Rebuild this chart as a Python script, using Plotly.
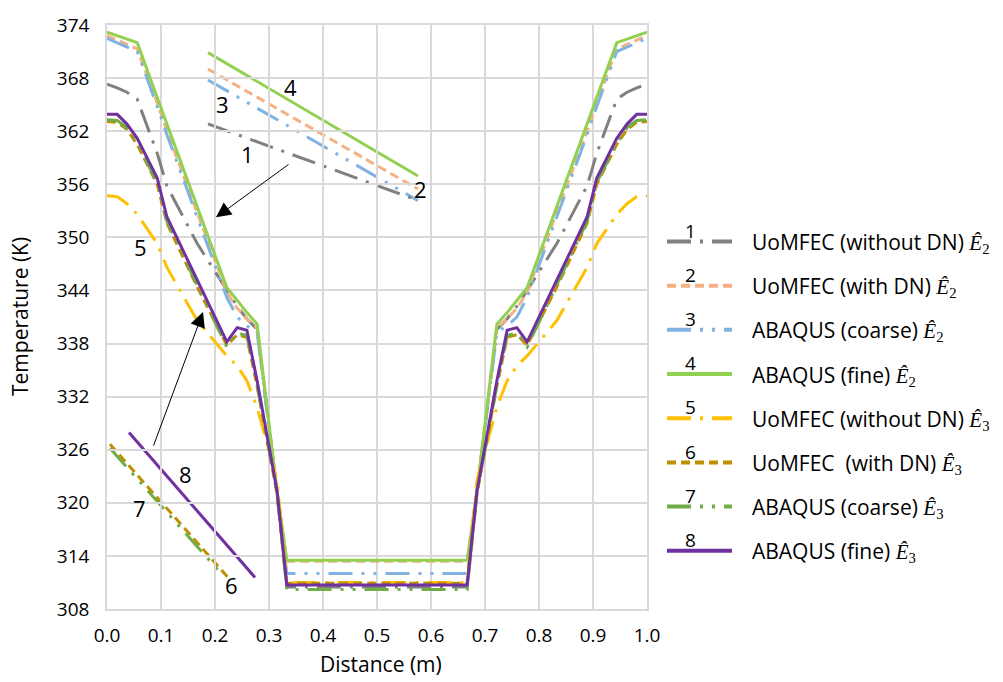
import plotly.graph_objects as go

# ---------------- data ----------------
distance = [0, 0.019, 0.037, 0.056, 0.093, 0.111, 0.167, 0.222, 0.241, 0.259, 0.278, 0.315, 0.333,
            0.5, 0.667, 0.685, 0.722, 0.741, 0.759, 0.778, 0.833, 0.889, 0.907, 0.944, 0.963, 0.981, 1.0]

uomfec_wo_dn_e2 = [367.3, 366.9, 366.4, 365.6, 359.5, 355.8, 349.3, 344.0, 342.2, 340.8, 339.6, 321.2, 310.5,
                   310.5, 310.5, 321.2, 339.6, 340.8, 342.2, 344.0, 349.3, 355.8, 359.5, 365.6, 366.4, 366.9, 367.3]
uomfec_w_dn_e2 = [372.8, 372.3, 371.8, 371.3, 365.2, 362.0, 352.8, 343.8, 342.0, 340.8, 339.8, 321.3, 313.4,
                  313.4, 313.4, 321.3, 339.8, 340.8, 342.0, 343.8, 352.8, 362.0, 365.2, 371.3, 371.8, 372.3, 372.8]
abaqus_coarse_e2 = [372.5, 372.0, 371.5, 371.0, 364.8, 361.6, 352.3, 343.2, 341.0, 340.0, 339.3, 321.0, 312.0,
                    312.0, 312.0, 321.0, 339.3, 340.0, 341.0, 343.2, 352.3, 361.6, 364.8, 371.0, 371.5, 372.0, 372.5]
abaqus_fine_e2 = [373.2, 372.8, 372.4, 372.0, 365.8, 362.8, 353.5, 344.3, 342.9, 341.5, 340.2, 321.3, 313.5,
                  313.5, 313.5, 321.3, 340.2, 341.5, 342.9, 344.3, 353.5, 362.8, 365.8, 372.0, 372.4, 372.8, 373.2]
uomfec_wo_dn_e3 = [354.7, 354.6, 353.8, 352.6, 349.3, 346.6, 340.6, 336.6, 335.5, 333.8, 330.8, 322.5, 311.0,
                   311.0, 311.0, 322.5, 330.8, 333.8, 335.5, 336.6, 340.6, 346.6, 349.3, 352.6, 353.8, 354.6, 354.7]
uomfec_w_dn_e3 = [363.1, 363.0, 362.2, 360.5, 356.0, 351.6, 344.4, 337.8, 339.0, 338.7, 333.2, 321.0, 310.9,
                  310.9, 310.9, 321.0, 333.2, 338.7, 339.0, 337.8, 344.4, 351.6, 356.0, 360.5, 362.2, 363.0, 363.1]
abaqus_coarse_e3 = [363.3, 363.2, 362.4, 360.6, 356.2, 351.8, 344.6, 337.6, 339.2, 338.9, 333.3, 321.0, 310.2,
                    310.2, 310.2, 321.0, 333.3, 338.9, 339.2, 337.6, 344.6, 351.8, 356.2, 360.6, 362.4, 363.2, 363.3]
abaqus_fine_e3 = [363.9, 363.9, 362.8, 361.2, 356.7, 352.3, 345.2, 338.2, 339.8, 339.5, 333.8, 321.3, 310.7,
                  310.7, 310.7, 321.3, 333.8, 339.5, 339.8, 338.2, 345.2, 352.3, 356.7, 361.2, 362.8, 363.9, 363.9]

series_names = ["UoMFEC (without DN)", "UoMFEC (with DN)", "ABAQUS (coarse)", "ABAQUS (fine)",
                "UoMFEC (without DN)", "UoMFEC\u00a0 (with DN)", "ABAQUS (coarse)", "ABAQUS (fine)"]
series_sub = ["2", "2", "2", "2", "3", "3", "3", "3"]
series_values = [uomfec_wo_dn_e2, uomfec_w_dn_e2, abaqus_coarse_e2, abaqus_fine_e2,
                 uomfec_wo_dn_e3, uomfec_w_dn_e3, abaqus_coarse_e3, abaqus_fine_e3]

y_ticks = [308, 314, 320, 326, 332, 338, 344, 350, 356, 362, 368, 374]

# ---------------- styles ----------------
LDD = "24px,9px,3px,9px"
LDDD = "24px,9px,3px,9px,3px,9px"
DSH = "9px,5px"
colors = ["#808080", "#F4B183", "#80B2E2", "#92D050", "#FFC000", "#BF9000", "#70AD47", "#7030A0"]
dashes = [LDD, DSH, LDDD, "solid", LDD, DSH, LDDD, "solid"]

FONT = "Open Sans"
SERIF = "Liberation Serif"

# plot area geometry in pixels
L, R, T, B = 107, 647, 17, 609
W, H = R - L, B - T


def P(px, py):
    return (px - L) / W, (B - py) / H


fig = go.Figure()
for i, vals in enumerate(series_values):
    fig.add_trace(go.Scatter(x=distance, y=vals, mode="lines", showlegend=False,
                             line=dict(color=colors[i], width=3, dash=dashes[i]),
                             name=series_names[i]))

shapes = []
annotations = []

# white inset boxes covering gridlines
for (x0, y0, x1, y1) in [(208, 37, 423, 198), (112, 400, 257, 580)]:
    a0, b0 = P(x0, y1)
    a1, b1 = P(x1, y0)
    shapes.append(dict(type="rect", xref="paper", yref="paper", x0=a0, y0=b0, x1=a1, y1=b1,
                       fillcolor="white", line=dict(width=0), layer="between"))

# inset magnified lines
inset_lines = [
    ((208, 45), (418, 170), 3), ((208, 61.7), (418, 183.3), 1), ((208, 72.7), (418, 195), 2),
    ((208, 117.3), (413, 193), 0),
    ((129, 430), (255, 577), 7), ((110, 442), (228, 577), 5), ((110, 446), (222, 574), 6),
]
for (p0, p1, k) in inset_lines:
    a0, b0 = P(*p0)
    a1, b1 = P(*p1)
    shapes.append(dict(type="line", xref="paper", yref="paper", x0=a0, y0=b0, x1=a1, y1=b1,
                       line=dict(color=colors[k], width=3, dash=dashes[k]), layer="between"))

# number labels in plot
for (txt, px, py) in [("4", 290, 80), ("3", 222, 97), ("1", 247, 148), ("2", 420, 183),
                      ("5", 140, 242), ("8", 185, 472), ("7", 139, 507), ("6", 231, 585)]:
    a, b = P(px, py)
    annotations.append(dict(x=a, y=b, xref="paper", yref="paper", text=txt, showarrow=False,
                            font=dict(family=FONT, size=22, color="black"),
                            xanchor="center", yanchor="middle"))

# arrows
for (hx, hy, tx, ty) in [(216, 212, 290, 158), (203, 308, 153, 443)]:
    a, b = P(hx, hy)
    annotations.append(dict(x=a, y=b, xref="paper", yref="paper", text="", showarrow=True,
                            ax=tx - hx, ay=ty - hy, arrowhead=2, arrowsize=3, arrowwidth=1,
                            arrowcolor="black", standoff=0))

# custom legend
row_y = [236.5, 281.3, 326, 370.8, 415.6, 460.4, 505.2, 550]
for i in range(8):
    yy = row_y[i]
    a0, b0 = P(667, yy)
    a1, _ = P(732, yy)
    shapes.append(dict(type="line", xref="paper", yref="paper", x0=a0, y0=b0, x1=a1, y1=b0,
                       line=dict(color=colors[i], width=4, dash=dashes[i])))
    a, b = P(690, yy - 11)
    annotations.append(dict(x=a, y=b, xref="paper", yref="paper", text=str(i + 1), showarrow=False,
                            font=dict(family=FONT, size=19, color="black"),
                            xanchor="center", yanchor="middle"))
    a, b = P(750, yy + 1)
    label = (f"{series_names[i]} <span style='font-family:{SERIF}'><i>Ê</i>"
             f"<sub>{series_sub[i]}</sub></span>")
    annotations.append(dict(x=a, y=b, xref="paper", yref="paper", text=label, showarrow=False,
                            font=dict(family=FONT, size=21, color="black"),
                            xanchor="left", yanchor="middle"))

# axis titles
a, b = P(20, 313)
annotations.append(dict(x=a, y=b, xref="paper", yref="paper", text="Temperature (K)", showarrow=False,
                        textangle=-90, font=dict(family=FONT, size=21, color="black"),
                        xanchor="center", yanchor="middle"))
a, b = P(381, 665)
annotations.append(dict(x=a, y=b, xref="paper", yref="paper", text="Distance (m)", showarrow=False,
                        font=dict(family=FONT, size=21, color="black"),
                        xanchor="center", yanchor="middle"))

grid = "#D9D9D9"
fig.update_layout(
    width=1003, height=682,
    margin=dict(l=L, r=1003 - R, t=T, b=682 - B),
    paper_bgcolor="white", plot_bgcolor="white",
    font=dict(family=FONT, size=19, color="black"),
    shapes=shapes, annotations=annotations,
    xaxis=dict(range=[0, 1], tickmode="linear", tick0=0, dtick=0.1, tickformat=".1f",
               showgrid=True, gridcolor=grid, gridwidth=1.5, zeroline=False,
               showline=True, linecolor=grid, linewidth=1.5, mirror=True, ticks="",
               ticklabelstandoff=8,
               tickfont=dict(family=FONT, size=19, color="black")),
    yaxis=dict(range=[308, 374], tickvals=y_ticks,
               showgrid=True, gridcolor=grid, gridwidth=1.5, zeroline=False,
               showline=True, linecolor=grid, linewidth=1.5, mirror=True, ticks="",
               ticklabelstandoff=12,
               tickfont=dict(family=FONT, size=19, color="black")),
)

fig.write_html("out.html")
